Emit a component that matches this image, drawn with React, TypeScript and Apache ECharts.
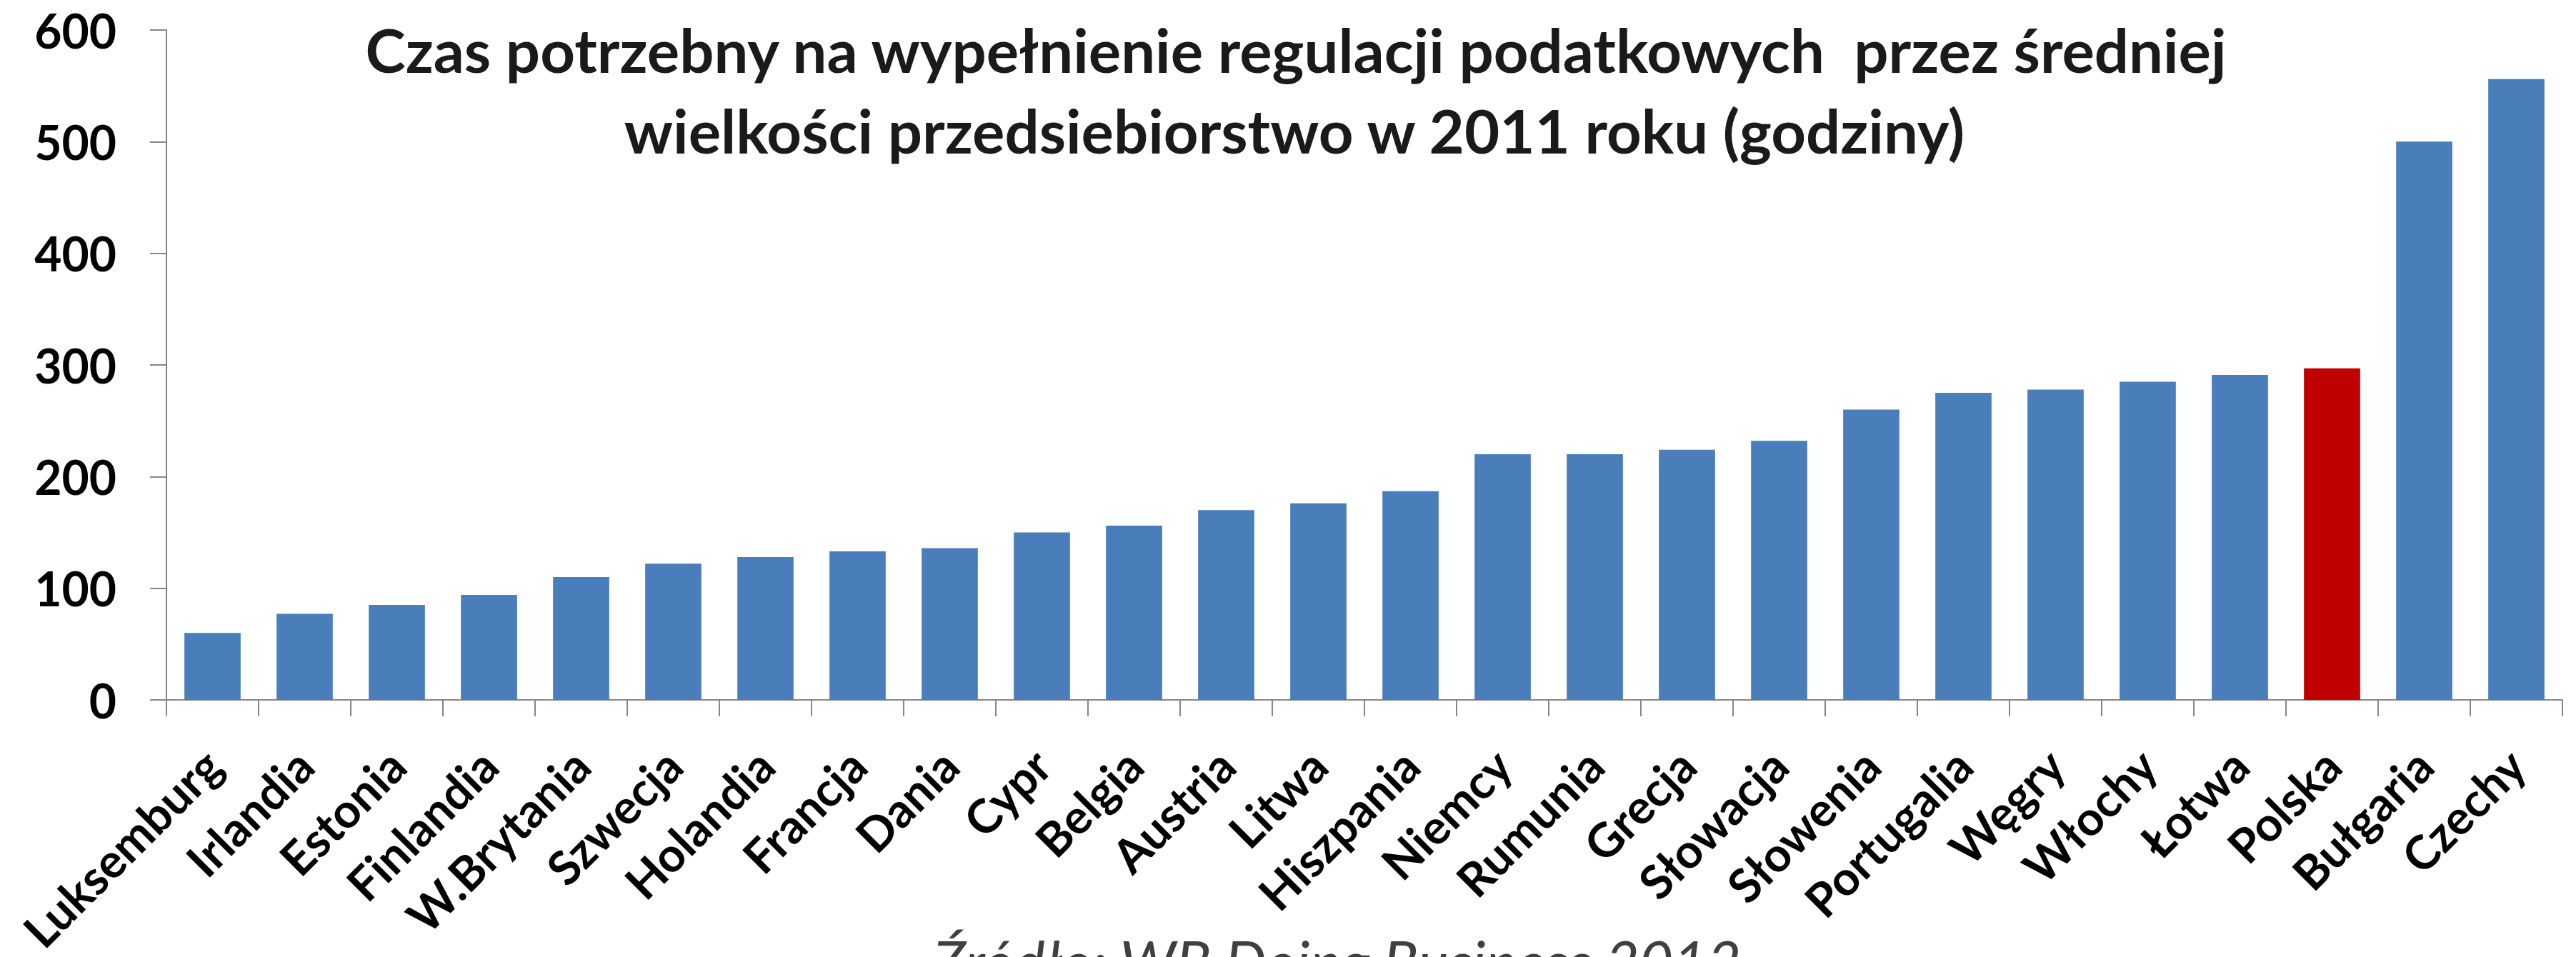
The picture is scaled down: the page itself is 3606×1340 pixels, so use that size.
import React, { useEffect, useRef } from "react";
import * as echarts from "echarts";

const categories = [
  "Luksemburg", "Irlandia", "Estonia", "Finlandia", "W.Brytania", "Szwecja", "Holandia",
  "Francja", "Dania", "Cypr", "Belgia", "Austria", "Litwa", "Hiszpania", "Niemcy",
  "Rumunia", "Grecja", "Słowacja", "Słowenia", "Portugalia", "Węgry", "Włochy",
  "Łotwa", "Polska", "Bułgaria", "Czechy",
];
const hours = [
  60, 77, 85, 94, 110, 122, 128, 133, 136, 150, 156, 170, 176, 187, 220,
  220, 224, 232, 260, 275, 278, 285, 291, 297, 500, 556,
];
const highlighted = ["Polska"];
const yTicks = [0, 100, 200, 300, 400, 500, 600];
const titleLines = [
  "Czas potrzebny na wypełnienie regulacji podatkowych  przez średniej",
  "wielkości przedsiebiorstwo w 2011 roku (godziny)",
];
const sourceText = "Źródło: WB Doing Business 2012";

const BLUE = "#4A7EBB";
const RED = "#C00000";
const AXIS = "#868686";
const FONT = "Lato, 'Open Sans', sans-serif";

export default function App() {
  const ref = useRef<HTMLDivElement>(null);
  useEffect(() => {
    document.body.style.margin = "0";
    if (!ref.current) return;
    const chart = echarts.init(ref.current, null, { renderer: "svg" });
    chart.setOption({
      animation: false,
      backgroundColor: "#ffffff",
      grid: {
        left: 233,
        right: 19,
        top: 42,
        bottom: 360,
        containLabel: false,
        outerBoundsMode: "none",
      },
      xAxis: {
        type: "category",
        data: categories,
        axisLine: { show: true, lineStyle: { color: AXIS, width: 2 } },
        axisTick: { show: true, length: 23, lineStyle: { color: AXIS, width: 2 } },
        axisLabel: {
          interval: 0,
          rotate: 45,
          margin: 80,
          color: "#000000",
          fontFamily: FONT,
          fontWeight: "bold",
          fontSize: 66,
        },
      },
      yAxis: {
        type: "value",
        min: yTicks[0],
        max: yTicks[yTicks.length - 1],
        interval: 100,
        axisLine: { show: true, lineStyle: { color: AXIS, width: 2 } },
        axisTick: { show: true, length: 23, lineStyle: { color: AXIS, width: 2 } },
        splitLine: { show: false },
        axisLabel: {
          margin: 70,
          color: "#000000",
          fontFamily: FONT,
          fontWeight: "bold",
          fontSize: 66,
        },
      },
      series: [
        {
          type: "bar",
          barWidth: "61%",
          data: hours.map((v, i) => ({
            value: v,
            itemStyle: { color: highlighted.includes(categories[i]) ? RED : BLUE },
          })),
        },
      ],
      graphic: [
        {
          type: "text",
          x: 1814,
          y: 69,
          style: {
            text: titleLines[0],
            fill: "#1a1a1a",
            font: `bold 85px ${FONT}`,
            textAlign: "center",
            textVerticalAlign: "middle",
          },
        },
        {
          type: "text",
          x: 1812,
          y: 182,
          style: {
            text: titleLines[1],
            fill: "#1a1a1a",
            font: `bold 85px ${FONT}`,
            textAlign: "center",
            textVerticalAlign: "middle",
          },
        },
        {
          type: "text",
          x: 1306,
          y: 1345,
          style: {
            text: sourceText,
            fill: "#404040",
            font: `italic 82px ${FONT}`,
            textAlign: "left",
            textVerticalAlign: "middle",
          },
        },
      ],
    });
    return () => chart.dispose();
  }, []);
  return (
    <div
      ref={ref}
      style={{ position: "fixed", left: 0, top: 0, width: 3606, height: 1340 }}
    />
  );
}
